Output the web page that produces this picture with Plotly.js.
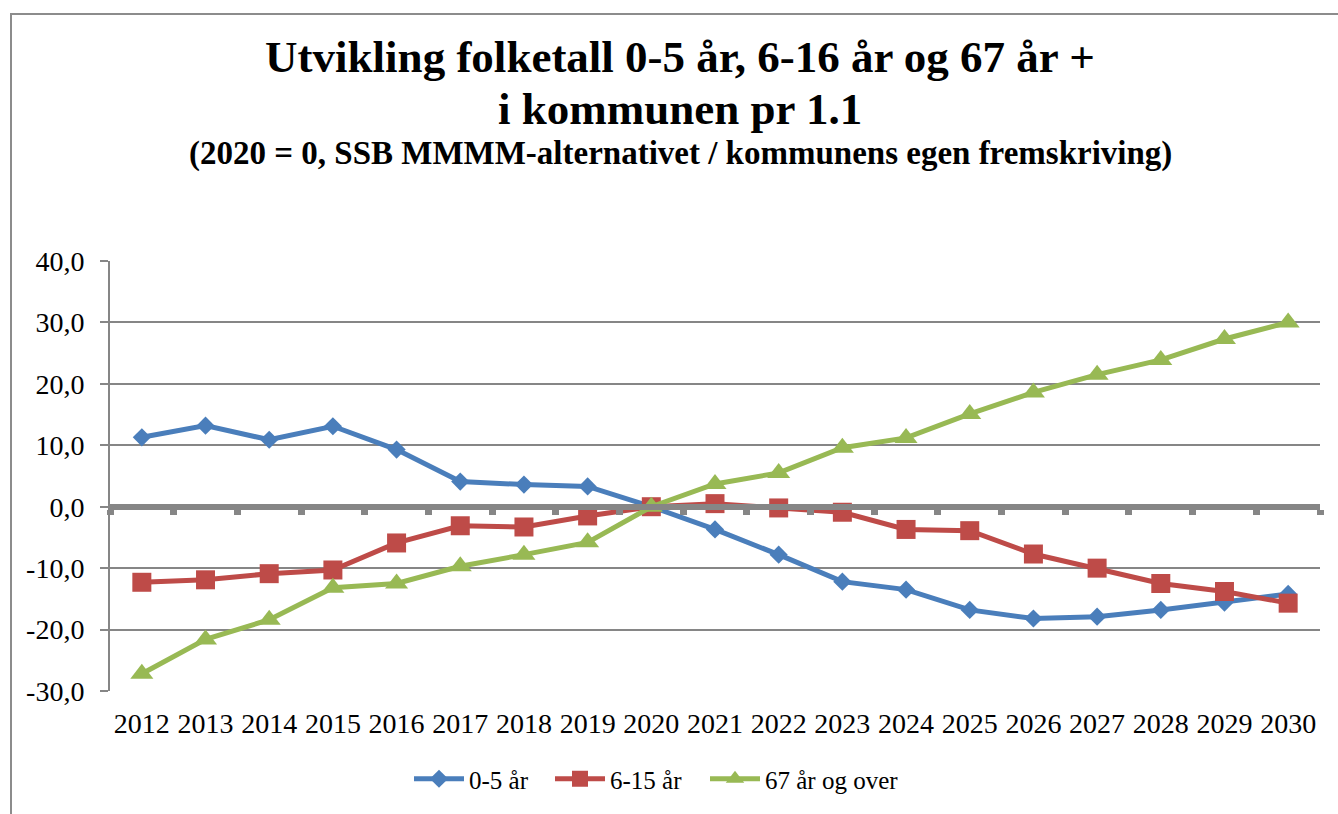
<!DOCTYPE html>
<html>
<head>
<meta charset="utf-8">
<script src="https://cdn.plot.ly/plotly-3.0.1.min.js"></script>
<style>
  html, body { margin: 0; padding: 0; background: #ffffff; }
  #wrap { position: relative; width: 1338px; height: 814px; overflow: hidden; }
  #frame { position: absolute; left: 10px; top: 13px; width: 1400px; height: 900px; border: 2px solid #8c8c8c; box-sizing: border-box; }
  #chart { position: absolute; left: 0; top: 0; width: 1338px; height: 814px; }
</style>
</head>
<body>
<div id="wrap">
  <div id="frame"></div>
  <div id="chart"></div>
</div>
<script>
const years = ['2012','2013','2014','2015','2016','2017','2018','2019','2020','2021','2022','2023','2024','2025','2026','2027','2028','2029','2030'];
const age0to5 = [11.3, 13.2, 10.9, 13.1, 9.3, 4.1, 3.6, 3.3, 0, -3.7, -7.8, -12.2, -13.5, -16.8, -18.2, -17.9, -16.8, -15.6, -14.2];
const age6to15 = [-12.3, -11.9, -10.9, -10.3, -5.9, -3.1, -3.3, -1.5, 0, 0.5, -0.2, -0.9, -3.7, -3.9, -7.7, -10.0, -12.5, -13.8, -15.7];
const age67plus = [-27.2, -21.6, -18.4, -13.2, -12.5, -9.7, -7.8, -5.8, 0, 3.7, 5.5, 9.6, 11.2, 15.1, 18.6, 21.5, 23.9, 27.3, 30.0];
const seriesNames = ['0-5 år', '6-15 år', '67 år og over'];
const yTickVals = [-30, -20, -10, 0, 10, 20, 30, 40];
const yTickText = ['-30,0', '-20,0', '-10,0', '0,0', '10,0', '20,0', '30,0', '40,0'];
const titleLine1 = 'Utvikling folketall 0-5 år, 6-16 år og 67 år +';
const titleLine2 = 'i kommunen pr 1.1';
const titleLine3 = '(2020 = 0, SSB MMMM-alternativet / kommunens egen fremskriving)';

const FONT = 'Liberation Serif, Times New Roman, serif';
const GRID = '#868686';

const traces = [
  {
    x: years, y: age0to5, name: seriesNames[0], type: 'scatter', mode: 'lines+markers',
    line: {color: '#4A7EBB', width: 5},
    marker: {symbol: 'diamond', size: 14, color: '#4A7EBB'},
    legend: 'legend'
  },
  {
    x: years, y: age6to15, name: seriesNames[1], type: 'scatter', mode: 'lines+markers',
    line: {color: '#BE4B48', width: 5},
    marker: {symbol: 'square', size: 19, color: '#BE4B48'},
    legend: 'legend2'
  },
  {
    x: years, y: age67plus, name: seriesNames[2], type: 'scatter', mode: 'lines+markers',
    line: {color: '#98B954', width: 5},
    marker: {symbol: 'triangle-up', size: 20, color: '#98B954'},
    legend: 'legend3'
  },
  {
    x: years, y: age0to5, xaxis: 'x2', yaxis: 'y', mode: 'none', type: 'scatter',
    showlegend: false, hoverinfo: 'skip'
  }
];

function legendAt(px) {
  return {
    orientation: 'h', x: (px-110)/1210, xanchor: 'left',
    y: (691-779)/430, yanchor: 'middle',
    font: {family: FONT, size: 25, color: '#000000'},
    itemwidth: 50, bgcolor: 'rgba(0,0,0,0)'
  };
}

const layout = {
  width: 1338, height: 814,
  margin: {l: 110, r: 18, t: 261, b: 123},
  paper_bgcolor: 'rgba(0,0,0,0)',
  plot_bgcolor: 'rgba(0,0,0,0)',
  font: {family: FONT, color: '#000000', size: 28},
  showlegend: true,
  title: {
    text: '<b>' + titleLine1 + '</b>',
    font: {family: FONT, size: 45, color: '#000000'},
    xref: 'container', x: 680/1338, xanchor: 'center',
    yref: 'container', y: 1 - 56/814, yanchor: 'middle'
  },
  annotations: [
    {
      text: '<b>' + titleLine2 + '</b>', showarrow: false,
      font: {family: FONT, size: 45, color: '#000000'},
      xref: 'paper', x: (680-110)/1210, xanchor: 'center',
      yref: 'paper', y: (691-109)/430, yanchor: 'middle'
    },
    {
      text: '<b>' + titleLine3 + '</b>', showarrow: false,
      font: {family: FONT, size: 33, color: '#000000'},
      xref: 'paper', x: (680-110)/1210, xanchor: 'center',
      yref: 'paper', y: (691-154)/430, yanchor: 'middle'
    }
  ],
  xaxis: {
    type: 'category', range: [-0.5, 18.5],
    showgrid: false, showline: false, zeroline: false, ticks: '',
    tickfont: {family: FONT, size: 28, color: '#000000'},
    ticklabelstandoff: 13,
    fixedrange: true
  },
  xaxis2: {
    type: 'category', range: [-0.5, 18.5],
    overlaying: 'x', anchor: 'free', position: 30/70,
    showgrid: false, zeroline: false, showticklabels: false,
    showline: true, linecolor: GRID, linewidth: 6,
    ticks: 'outside', tickson: 'boundaries', ticklen: 5, tickwidth: 7, tickcolor: GRID,
    fixedrange: true
  },
  yaxis: {
    range: [-30, 40], tickvals: yTickVals, ticktext: yTickText,
    showgrid: true, gridcolor: GRID, gridwidth: 2,
    showline: true, linecolor: GRID, linewidth: 2,
    zeroline: false,
    ticks: 'outside', ticklen: 8, tickwidth: 2, tickcolor: GRID,
    ticklabelstandoff: 10,
    tickfont: {family: FONT, size: 28, color: '#000000'},
    fixedrange: true
  },
  legend: legendAt(409),
  legend2: legendAt(550),
  legend3: legendAt(705)
};

Plotly.newPlot('chart', traces, layout, {displayModeBar: false, staticPlot: true});
</script>
</body>
</html>
